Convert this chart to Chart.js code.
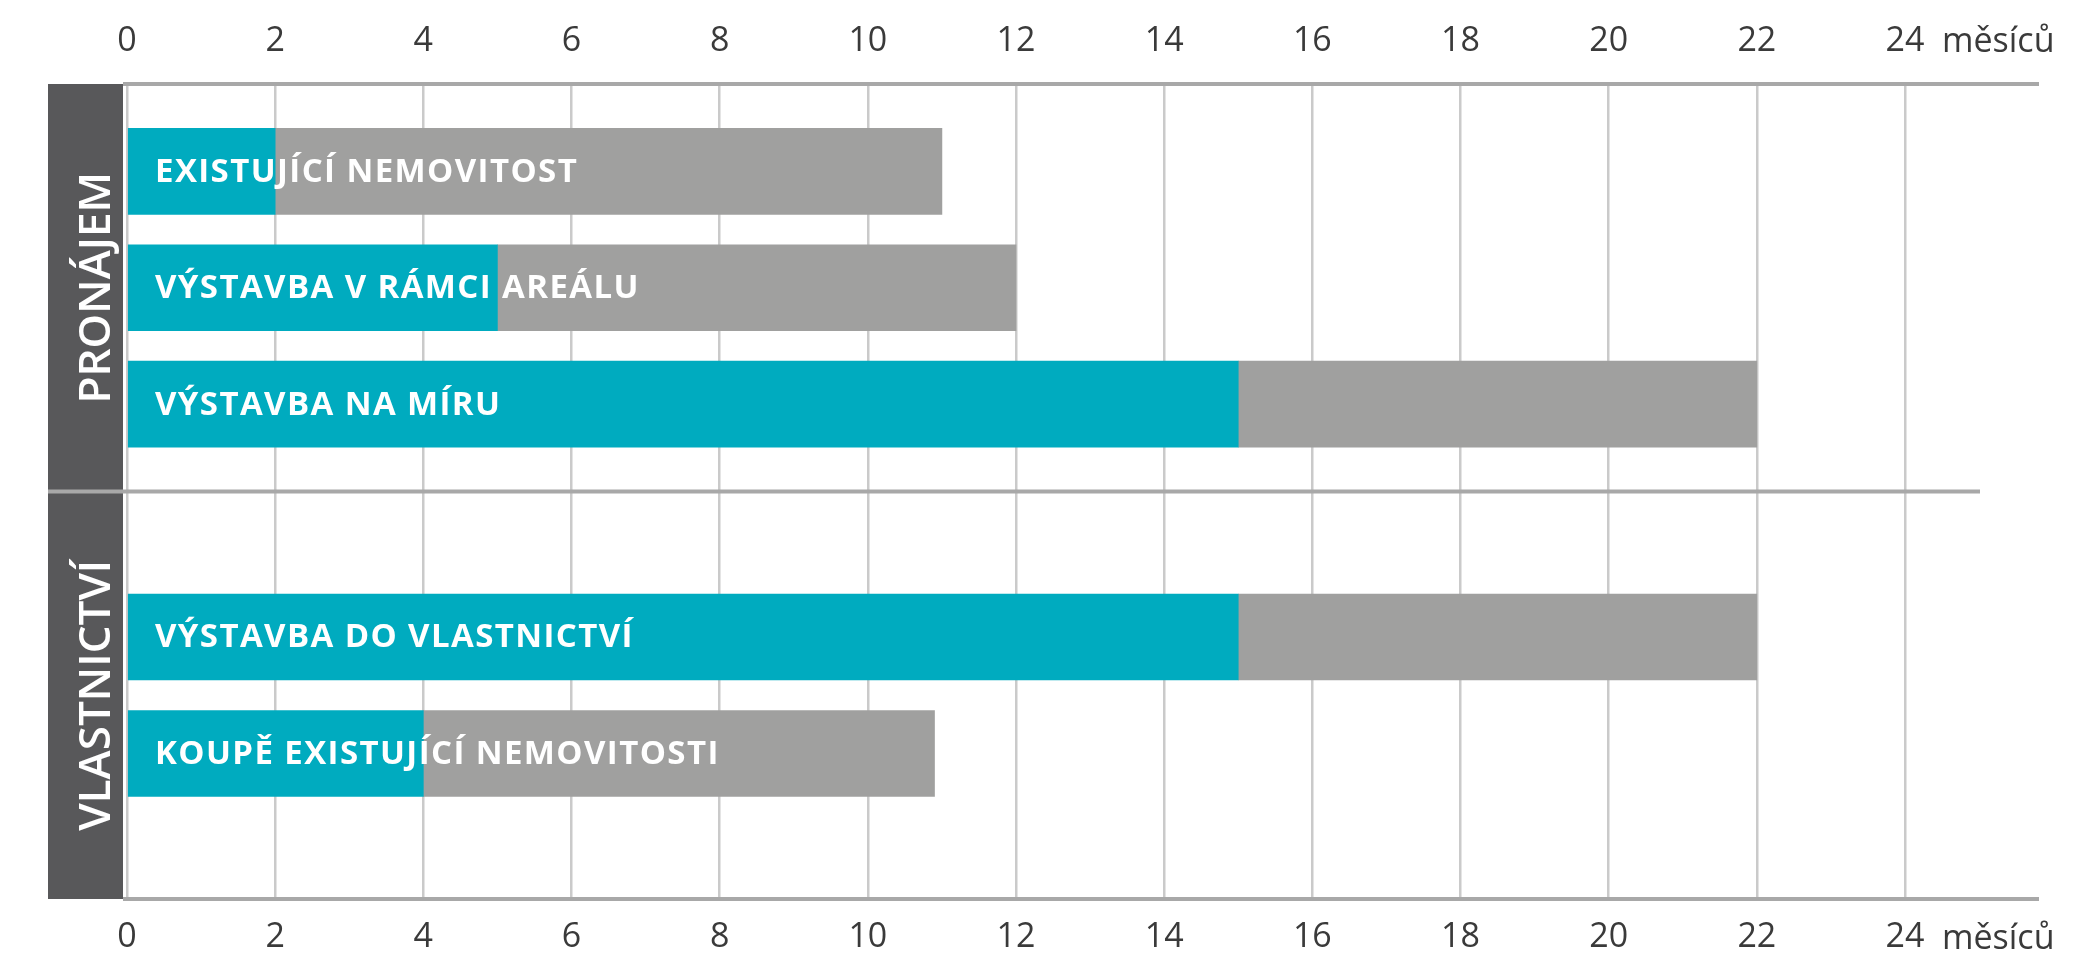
<!DOCTYPE html>
<html>
<head>
<meta charset="utf-8">
<script src="https://cdn.jsdelivr.net/npm/chart.js@4"></script>
<style>
  html, body { margin: 0; padding: 0; background: #fff; }
</style>
</head>
<body>
<canvas id="myChart" width="2080" height="966"></canvas>
<script>
// rows of the chart, empty strings are spacer rows
const categories = ['', 'EXISTUJÍCÍ NEMOVITOST', '', 'VÝSTAVBA V RÁMCI AREÁLU', '', 'VÝSTAVBA NA MÍRU', '',
                    '', '', 'VÝSTAVBA DO VLASTNICTVÍ', '', 'KOUPĚ EXISTUJÍCÍ NEMOVITOSTI', '', ''];
const firstPhase  = [null, 2, null, 5, null, 15, null, null, null, 15, null, 4, null, null];
const totalMonths = [null, 11, null, 12, null, 22, null, null, null, 22, null, 10.9, null, null];
const groups = ['PRONÁJEM', 'VLASTNICTVÍ'];
const groupRows = [7, 7]; // number of rows per group
const tickMax = 24;
const tickStep = 2;
const unitLabel = 'měsíců';

const TEAL = '#00abbf';
const GREY_BAR = '#a0a09f';
const DARK = '#58585a';
const LINE = '#a8a8a8';
const GRID = '#cacaca';
const TEXT = '#3a3a3a';

const restPhase = totalMonths.map((t, i) => t == null ? null : t - firstPhase[i]);

const decor = {
  id: 'decor',
  beforeDatasetsDraw(chart) {
    const { ctx, chartArea: a } = chart;
    ctx.save();
    // dark group boxes
    ctx.fillStyle = DARK;
    ctx.fillRect(48, a.top, a.left - 4 - 48, a.bottom - a.top);
    ctx.restore();
  },
  afterDatasetsDraw(chart) {
    const { ctx, chartArea: a, scales: { x } } = chart;
    const metaA = chart.getDatasetMeta(0);
    ctx.save();

    // labels inside bars
    ctx.fillStyle = '#fff';
    ctx.font = '700 33px "Open Sans"';
    ctx.letterSpacing = '1.4px';
    ctx.textBaseline = 'middle';
    ctx.textAlign = 'left';
    categories.forEach((c, i) => {
      if (!c) return;
      ctx.fillText(c, a.left + 28, metaA.data[i].y + 1);
    });
    ctx.letterSpacing = '0px';

    // horizontal lines
    ctx.strokeStyle = LINE;
    ctx.lineWidth = 4;
    const line = (y0, x0, x1) => { ctx.beginPath(); ctx.moveTo(x0, y0); ctx.lineTo(x1, y0); ctx.stroke(); };
    line(a.top, a.left - 4, 2039);
    line(a.bottom, a.left - 4, 2039);

    // group separators and labels
    let start = 0;
    const rowH = (a.bottom - a.top) / categories.length;
    groups.forEach((g, gi) => {
      const end = start + groupRows[gi];
      const top = a.top + start * rowH;
      const bottom = a.top + end * rowH;
      if (gi < groups.length - 1) line(bottom, 48, 1980);
      ctx.save();
      ctx.translate(110, (top + bottom) / 2);
      ctx.rotate(-Math.PI / 2);
      ctx.fillStyle = '#fff';
      ctx.font = '600 44px "Open Sans"';
      ctx.textAlign = 'center';
      ctx.textBaseline = 'alphabetic';
      ctx.fillText(g, 0, 0);
      ctx.restore();
      start = end;
    });

    // unit label after the last tick
    ctx.fillStyle = TEXT;
    ctx.font = '34px "Open Sans"';
    ctx.textAlign = 'left';
    ctx.textBaseline = 'middle';
    const ux = x.getPixelForValue(tickMax) + 37;
    ctx.fillText(unitLabel, ux, 42);
    ctx.fillText(unitLabel, ux, 939);
    ctx.restore();
  }
};

const tickFont = { family: 'Open Sans', size: 34 };

new Chart(document.getElementById('myChart'), {
  type: 'bar',
  data: {
    labels: categories,
    datasets: [
      { data: firstPhase, backgroundColor: TEAL, barThickness: 86 },
      { data: restPhase, backgroundColor: GREY_BAR, barThickness: 86 }
    ]
  },
  options: {
    indexAxis: 'y',
    responsive: false,
    animation: false,
    layout: { padding: { left: 127, right: 175, top: 0, bottom: 0 } },
    plugins: { legend: { display: false }, tooltip: { enabled: false } },
    scales: {
      y: { stacked: true, display: false },
      x: {
        position: 'top', stacked: true, min: 0, max: tickMax,
        ticks: { stepSize: tickStep, color: TEXT, font: tickFont, padding: 22 },
        grid: { color: GRID, lineWidth: 2.5, drawTicks: false },
        border: { display: false },
        afterFit(s) { s.height = 84; }
      },
      x2: {
        position: 'bottom', axis: 'x', min: 0, max: tickMax,
        ticks: { stepSize: tickStep, color: TEXT, font: tickFont, padding: 18 },
        grid: { display: false, drawTicks: false },
        border: { display: false },
        afterFit(s) { s.height = 67; }
      }
    }
  },
  plugins: [decor]
});
</script>
</body>
</html>
